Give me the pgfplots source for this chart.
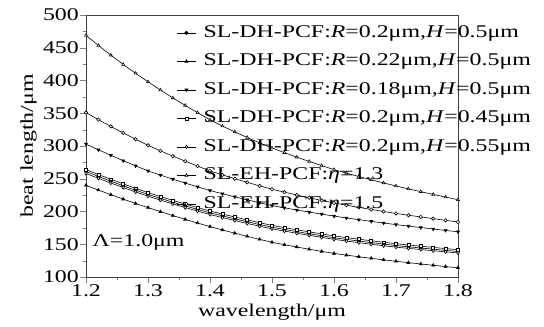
\documentclass[border=0pt]{standalone}
\usepackage{pgfplots}
\usepackage{pgfplotstable}
\pgfplotsset{compat=1.18}
\usepackage{fontspec}
\setmainfont[FakeStretch=1.33]{Liberation Serif}
\pgfplotstableread{
x A B C D E F G
1.20 469 351 303 261 264 258 240
1.22 453.5 340.2 294.2 253.5 256.4 250.6 232.7
1.24 438.7 329.9 285.8 246.3 249.2 243.5 225.7
1.26 424.5 320 277.6 239.3 242.2 236.6 218.9
1.28 411 310.3 269.7 232.5 235.4 229.8 212.3
1.30 398 301 262 226 228.8 223.4 206
1.32 385.5 292.6 255.6 220 222.8 217.4 199.8
1.34 373.5 284.6 249.4 214.2 217 211.6 193.8
1.36 362 276.8 243.4 208.6 211.4 206 188
1.38 350.8 269.3 237.6 203.2 206 200.6 182.4
1.40 340 262 232 198 200.8 195.4 177
1.42 330.5 255.9 227.1 193.3 196.1 190.7 171.8
1.44 321.5 250.1 222.4 188.8 191.6 186.2 166.9
1.46 313 244.5 217.8 184.4 187.2 181.8 162.1
1.48 304.8 239.1 213.3 180.1 182.9 177.5 157.5
1.50 297 234 209 176 178.8 173.5 153
1.52 289.8 229.5 205.6 172.6 175.4 170.1 149.3
1.54 283 225.2 202.3 169.3 172.1 166.8 145.8
1.56 276.4 221 199.1 166.1 168.9 163.6 142.4
1.58 270.1 216.9 196 163 165.8 160.5 139.1
1.60 264 213 193 160 162.8 157.5 136
1.62 258.6 209.6 190.2 157.4 160.2 154.9 133.4
1.64 253.4 206.3 187.5 154.9 157.7 152.4 130.9
1.66 248.4 203.1 184.9 152.5 155.3 150 128.5
1.68 243.6 200 182.4 150.2 153 147.7 126.2
1.70 239 197 180 148 150.8 145.6 124
1.72 234.6 194.3 177.7 146.1 148.9 143.7 121.9
1.74 230.3 191.7 175.5 144.3 147 141.9 119.9
1.76 226.1 189.1 173.3 142.5 145.2 140.1 117.9
1.78 222 186.5 171.1 140.7 143.4 138.4 115.9
1.80 218 184 169 139 141.7 136.8 114
}\datatable
\begin{document}
\begin{tikzpicture}
\path[use as bounding box] (-86bp,-50bp) rectangle (458bp,277bp);
\begin{axis}[
  at={(0,0)}, anchor=south west,
  width=372bp, height=262bp, scale only axis,
  xmin=1.2, xmax=1.8, ymin=100, ymax=500,
  xtick={1.2,1.3,...,1.8}, ytick={100,150,...,500},
  minor x tick num=1, minor y tick num=1,
  xtick pos=bottom, ytick pos=left,
  major tick length=6bp, minor tick length=3bp,
  tick align=outside,
  minor tick style={/pgfplots/tick align=inside},
  axis line style={black!75, line width=0.8pt},
  /pgf/number format/assume math mode=true,
  xticklabel style={/pgf/number format/fixed, /pgf/number format/precision=1, /pgf/number format/fixed zerofill, inner sep=1bp},
  yticklabel style={inner sep=1bp},
  tick label style={font=\fontsize{18}{18}\selectfont},
  label style={font=\fontsize{18}{18}\selectfont},
  xlabel={wavelength/μm},
  ylabel={beat length/μm},
  xlabel style={inner sep=0pt, yshift=-6bp},
  ylabel style={inner sep=0pt, yshift=5bp},
  every axis plot/.append style={black, line width=0.6pt, mark size=1.7bp},
  legend style={at={(0.242,0.965)}, anchor=north west, draw=none, fill=none,
    inner sep=0pt, font=\fontsize{18}{18}\selectfont,
    nodes={inner sep=0pt, text height=13bp, text depth=4bp},
    row sep=11.5bp, column sep=7bp},
  legend cell align=left,
  legend image code/.code={\draw[mark repeat=2,mark phase=2] plot coordinates {(0cm,0cm) (0.35cm,0cm) (0.7cm,0cm)};},
]
\addplot[mark=*] table[x=x,y=D] {\datatable};
\addlegendentry{SL-DH-PCF:\textit{R}=0.2μm,\textit{H}=0.5μm}
\addplot[mark=triangle*] table[x=x,y=G] {\datatable};
\addlegendentry{SL-DH-PCF:\textit{R}=0.22μm,\textit{H}=0.5μm}
\addplot[mark=triangle*, mark options={rotate=180}] table[x=x,y=C] {\datatable};
\addlegendentry{SL-DH-PCF:\textit{R}=0.18μm,\textit{H}=0.5μm}
\addplot[mark=square*, mark options={fill=white, scale=0.85}] table[x=x,y=E] {\datatable};
\addlegendentry{SL-DH-PCF:\textit{R}=0.2μm,\textit{H}=0.45μm}
\addplot[mark=diamond*, mark options={fill=white}] table[x=x,y=F] {\datatable};
\addlegendentry{SL-DH-PCF:\textit{R}=0.2μm,\textit{H}=0.55μm}
\addplot[mark=triangle*, mark options={fill=white}] table[x=x,y=A] {\datatable};
\addlegendentry{SL-EH-PCF:\textit{η}=1.3}
\addplot[mark=*, mark options={fill=white}] table[x=x,y=B] {\datatable};
\addlegendentry{SL-EH-PCF:\textit{η}=1.5}
\node[anchor=west, font=\fontsize{18}{18}\selectfont] at (axis cs:1.205,152) {Λ=1.0μm};
\end{axis}
\end{tikzpicture}
\end{document}
